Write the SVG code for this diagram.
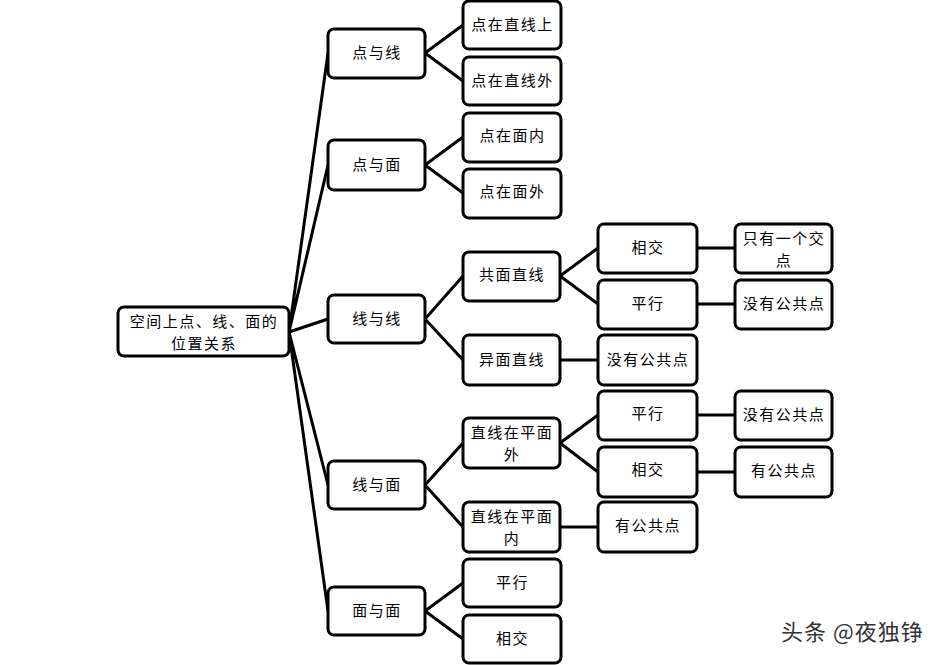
<svg xmlns="http://www.w3.org/2000/svg" width="949" height="665" viewBox="0 0 949 665">
<style>
.b{fill:#fff;stroke:#000;stroke-width:3}
.t{font-family:"Noto Sans CJK SC","Liberation Sans",sans-serif;font-size:15px;letter-spacing:1.5px;fill:#000;text-anchor:middle;dominant-baseline:central}
.c{stroke:#000;stroke-width:3;fill:none}
.w{font-family:"Noto Sans CJK SC","Liberation Sans",sans-serif;font-size:22px;letter-spacing:1px;fill:#333;stroke:#fff;stroke-width:0.5;paint-order:stroke}
</style>
<rect width="949" height="665" fill="#fff"/>
<g id="connectors" class="c">
<path d="M289 332L328 53M289 332L328 165M289 332L328 319M289 332L328 485M289 332L328 611"/>
<path d="M425 53L463 25M425 53L463 81M425 165L463 137M425 165L463 193"/>
<path d="M425 319L463 276M425 319L463 360M425 485L463 443M425 485L463 527"/>
<path d="M425 611L463 583M425 611L463 639"/>
<path d="M560 276L598 248M560 276L598 304M560 360L598 360"/>
<path d="M560 443L598 415M560 443L598 472M560 527L598 527"/>
<path d="M697 248L735 248M697 304L735 304M697 415L735 415M697 472L735 472"/>
</g>
<g id="root"><rect class="b" x="118" y="307" width="171" height="49" rx="6"/><text class="t" x="204" y="320">空间上点、线、面的</text><text class="t" x="204" y="342">位置关系</text></g>
<g id="n1"><rect class="b" x="328" y="29" width="97" height="49" rx="6"/><text class="t" x="377" y="51">点与线</text></g>
<g id="n2"><rect class="b" x="328" y="140" width="97" height="50" rx="6"/><text class="t" x="377" y="163">点与面</text></g>
<g id="n3"><rect class="b" x="328" y="295" width="97" height="48" rx="6"/><text class="t" x="377" y="317">线与线</text></g>
<g id="n4"><rect class="b" x="328" y="461" width="97" height="48" rx="6"/><text class="t" x="377" y="483">线与面</text></g>
<g id="n5"><rect class="b" x="328" y="587" width="97" height="48" rx="6"/><text class="t" x="377" y="609">面与面</text></g>
<g id="n11"><rect class="b" x="463" y="1" width="98" height="48" rx="6"/><text class="t" x="512.5" y="23">点在直线上</text></g>
<g id="n12"><rect class="b" x="463" y="57" width="98" height="48" rx="6"/><text class="t" x="512.5" y="79">点在直线外</text></g>
<g id="n21"><rect class="b" x="463" y="113" width="98" height="49" rx="6"/><text class="t" x="512.5" y="134">点在面内</text></g>
<g id="n22"><rect class="b" x="463" y="169" width="98" height="49" rx="6"/><text class="t" x="512.5" y="190">点在面外</text></g>
<g id="n31"><rect class="b" x="463" y="252" width="97" height="49" rx="6"/><text class="t" x="512" y="273">共面直线</text></g>
<g id="n32"><rect class="b" x="463" y="335" width="97" height="50" rx="6"/><text class="t" x="512" y="358">异面直线</text></g>
<g id="n41"><rect class="b" x="463" y="418" width="97" height="50" rx="6"/><text class="t" x="512" y="431">直线在平面</text><text class="t" x="512" y="453">外</text></g>
<g id="n42"><rect class="b" x="463" y="502" width="97" height="50" rx="6"/><text class="t" x="512" y="515">直线在平面</text><text class="t" x="512" y="537">内</text></g>
<g id="n51"><rect class="b" x="463" y="559" width="98" height="48" rx="6"/><text class="t" x="512.5" y="581">平行</text></g>
<g id="n52"><rect class="b" x="463" y="615" width="98" height="48" rx="6"/><text class="t" x="512.5" y="637">相交</text></g>
<g id="n311"><rect class="b" x="598" y="224" width="99" height="49" rx="6"/><text class="t" x="648" y="246">相交</text></g>
<g id="n312"><rect class="b" x="598" y="280" width="99" height="49" rx="6"/><text class="t" x="648" y="302">平行</text></g>
<g id="n321"><rect class="b" x="598" y="335" width="99" height="50" rx="6"/><text class="t" x="648" y="358">没有公共点</text></g>
<g id="n411"><rect class="b" x="598" y="391" width="99" height="49" rx="6"/><text class="t" x="648" y="412">平行</text></g>
<g id="n412"><rect class="b" x="598" y="447" width="99" height="50" rx="6"/><text class="t" x="648" y="468">相交</text></g>
<g id="n421"><rect class="b" x="598" y="502" width="99" height="50" rx="6"/><text class="t" x="648" y="524">有公共点</text></g>
<g id="n3111"><rect class="b" x="735" y="224" width="97" height="49" rx="6"/><text class="t" x="784" y="237">只有一个交</text><text class="t" x="784" y="259">点</text></g>
<g id="n3121"><rect class="b" x="735" y="280" width="97" height="49" rx="6"/><text class="t" x="784" y="302">没有公共点</text></g>
<g id="n4111"><rect class="b" x="735" y="391" width="97" height="49" rx="6"/><text class="t" x="784" y="413">没有公共点</text></g>
<g id="n4121"><rect class="b" x="735" y="447" width="97" height="50" rx="6"/><text class="t" x="784" y="469">有公共点</text></g>
<text class="w" x="781" y="640">头条 @夜独铮</text>
</svg>
